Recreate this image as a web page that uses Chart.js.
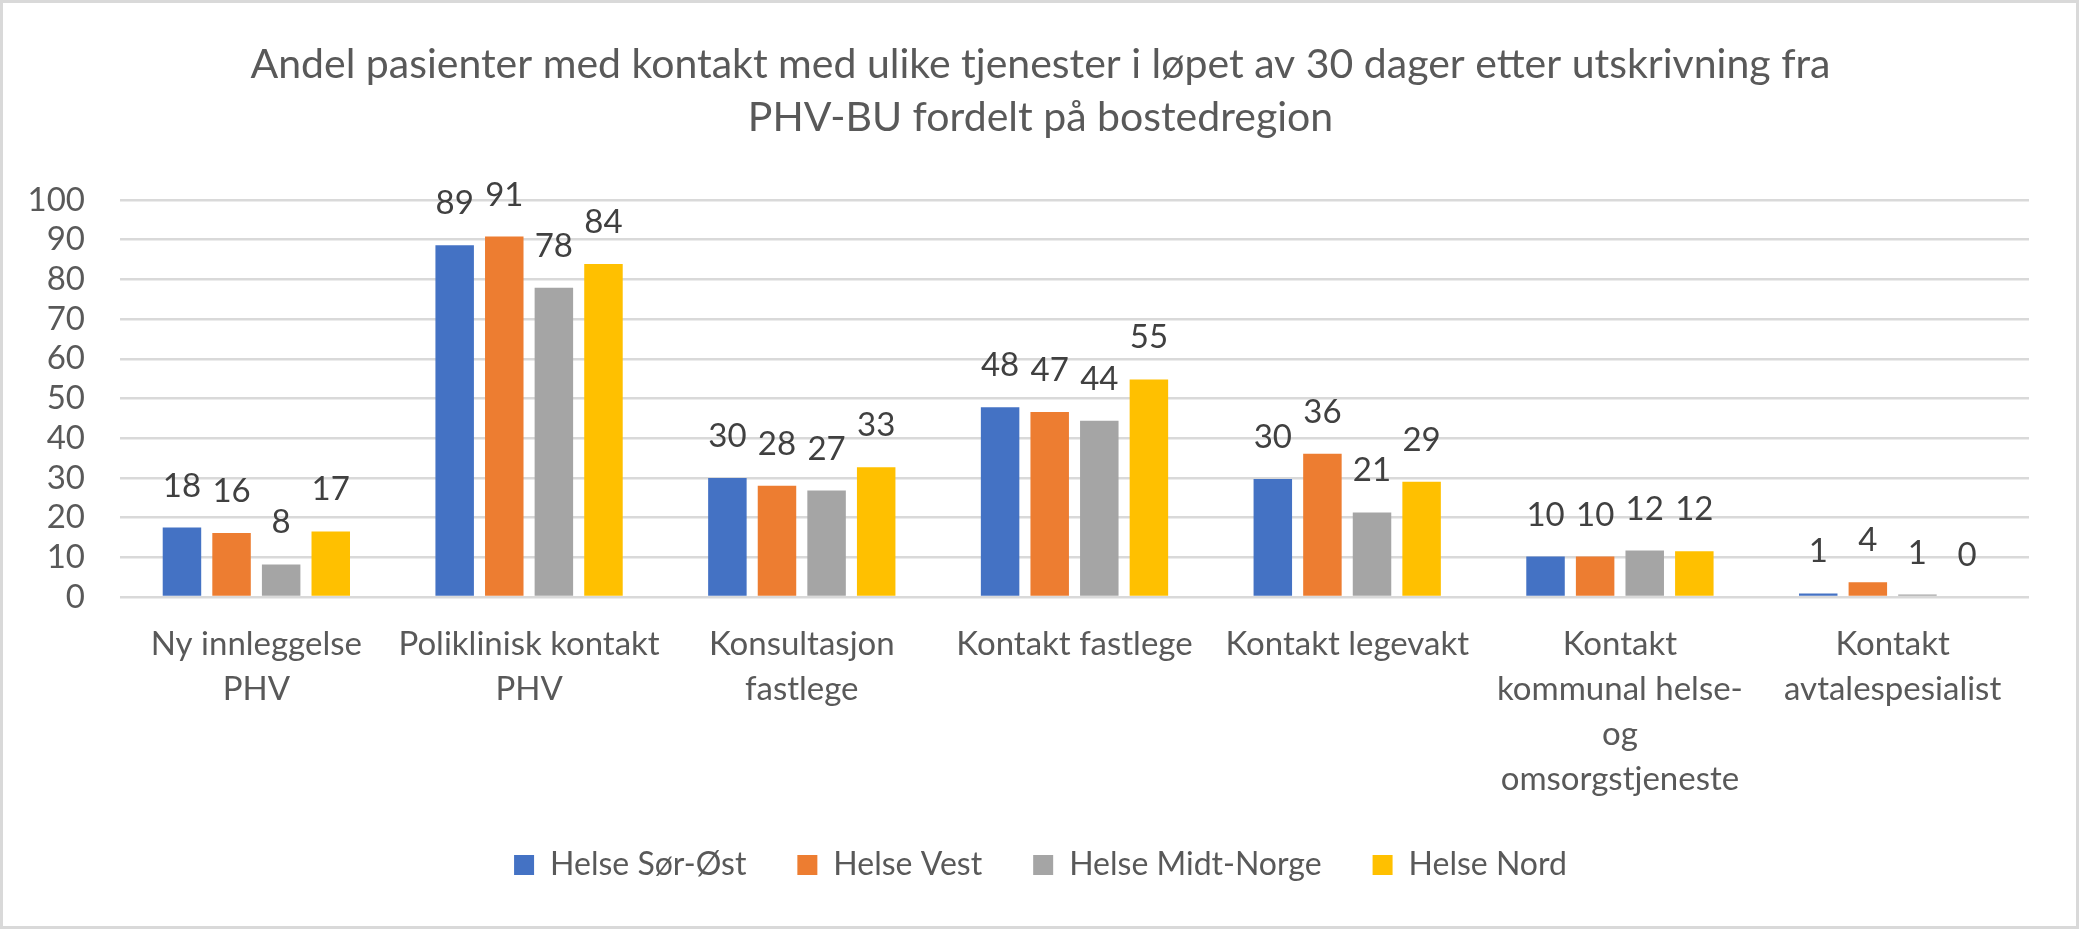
<!DOCTYPE html>
<html>
<head>
<meta charset="utf-8">
<script src="https://cdn.jsdelivr.net/npm/chart.js@4"></script>
<style>
  html, body { margin: 0; padding: 0; background: #fff; }
  #wrap { position: relative; width: 2081px; height: 931px; }
  #frame { position: absolute; left: 0; top: 0; width: 2079px; height: 929px; box-sizing: border-box; border: 3px solid #d9d9d9; pointer-events: none; }
  canvas { display: block; }
</style>
</head>
<body>
<div id="wrap"><canvas id="c" width="2081" height="931"></canvas><div id="frame"></div></div>
<script>
const titleLines = ["Andel pasienter med kontakt med ulike tjenester i løpet av 30 dager etter utskrivning fra", "PHV-BU fordelt på bostedregion"];
const categories = [
  ["Ny innleggelse", "PHV"],
  ["Poliklinisk kontakt", "PHV"],
  ["Konsultasjon", "fastlege"],
  "Kontakt fastlege",
  "Kontakt legevakt",
  ["Kontakt", "kommunal helse-", "og", "omsorgstjeneste"],
  ["Kontakt", "avtalespesialist"]
];
const seriesNames = ["Helse Sør-Øst", "Helse Vest", "Helse Midt-Norge", "Helse Nord"];
const helseSorOst   = [17.5, 88.6, 30.0, 47.8, 29.7, 10.2, 0.9];
const helseVest     = [16.1, 90.8, 28.0, 46.6, 36.1, 10.2, 3.7];
const helseMidtNorge= [8.2, 77.9, 26.8, 44.4, 21.3, 11.7, 0.6];
const helseNord     = [16.5, 83.9, 32.7, 54.8, 29.0, 11.5, 0];
const colors = ["#4472C4", "#ED7D31", "#A5A5A5", "#FFC000"];
const yTicks = [0, 10, 20, 30, 40, 50, 60, 70, 80, 90, 100];

const FONT = "Lato";
const FS = 33;

const dataLabels = {
  id: "dataLabels",
  afterDatasetsDraw(chart) {
    const ctx = chart.ctx;
    ctx.save();
    ctx.font = FS + "px " + FONT;
    ctx.fillStyle = "#404040";
    ctx.textAlign = "center";
    ctx.textBaseline = "alphabetic";
    chart.data.datasets.forEach((ds, di) => {
      const meta = chart.getDatasetMeta(di);
      meta.data.forEach((bar, i) => {
        ctx.fillText(String(Math.round(ds.data[i])), bar.x, bar.y - 31);
      });
    });
    ctx.restore();
  }
};

new Chart(document.getElementById("c"), {
  type: "bar",
  data: {
    labels: categories,
    datasets: [
      { label: seriesNames[0], data: helseSorOst, backgroundColor: colors[0] },
      { label: seriesNames[1], data: helseVest, backgroundColor: colors[1] },
      { label: seriesNames[2], data: helseMidtNorge, backgroundColor: colors[2] },
      { label: seriesNames[3], data: helseNord, backgroundColor: colors[3] }
    ]
  },
  options: {
    responsive: false,
    animation: false,
    devicePixelRatio: 1,
    layout: { padding: { left: 28, right: 28, top: 0, bottom: 40 } },
    datasets: { bar: { categoryPercentage: 0.7275, barPercentage: 0.776 } },
    scales: {
      x: {
        grid: { display: false, drawTicks: false },
        border: { display: false },
        afterFit(scale) { scale.height = 201; scale.paddingLeft = 0; scale.paddingRight = 0; },
        ticks: { color: "#595959", font: { family: FONT, size: FS, lineHeight: 45 / FS }, padding: 25, maxRotation: 0, autoSkip: false }
      },
      y: {
        min: 0, max: 100,
        afterBuildTicks(scale) { scale.ticks = yTicks.map(v => ({ value: v })); },
        afterFit(scale) { scale.width = 92; },
        grid: { color: "#d9d9d9", lineWidth: 2.5, drawTicks: false },
        border: { display: false },
        ticks: { color: "#595959", font: { family: FONT, size: FS }, padding: 35, autoSkip: false, stepSize: 10 }
      },
      yRightSpacer: {
        type: "linear",
        position: "right",
        min: 0, max: 100,
        grid: { display: false, drawTicks: false },
        border: { display: false },
        ticks: { display: false },
        afterFit(scale) { scale.width = 24; }
      }
    },
    plugins: {
      title: {
        display: true,
        text: titleLines,
        color: "#595959",
        font: { family: FONT, size: 41, weight: "400", lineHeight: 53 / 41 },
        padding: { top: 38.5, bottom: 55.5 }
      },
      legend: {
        display: true,
        position: "bottom",
        labels: { color: "#595959", font: { family: FONT, size: 32 }, boxWidth: 20, boxHeight: 20, padding: 51 }
      },
      tooltip: { enabled: false }
    }
  },
  plugins: [dataLabels]
});
</script>
</body>
</html>
